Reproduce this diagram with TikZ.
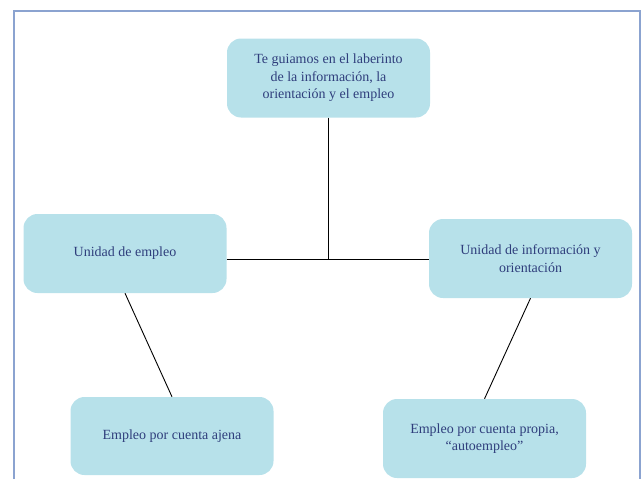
\documentclass[tikz,border=0pt]{standalone}
\usepackage{fontspec}
\setmainfont{Liberation Serif}
\definecolor{boxfill}{HTML}{B7E1EA}
\definecolor{boxtext}{HTML}{2F3E7C}
\definecolor{framecol}{HTML}{8BA3D0}

\begin{document}
\begin{tikzpicture}[x=1pt, y=-1pt,
  unit/.style={rectangle, rounded corners=14pt, fill=boxfill, text=boxtext,
    minimum width=203pt, minimum height=79pt, align=center,
    font=\fontsize{14}{17.5}\selectfont},
  link/.style={line width=0.9pt}]
  \useasboundingbox (0, 0) rectangle (642, 479);
  \draw[framecol, line width=1.4pt] (14, 479) -- (14, 11) -- (640, 11) -- (640, 479);

  \node[unit] (guia) at (328.5, 78) {Te guiamos en el laberinto\\de la información, la\\orientación y el empleo};
  \node[unit] (empleo) at (125, 253.5) {Unidad de empleo};
  \node[unit] (info) at (530.5, 258.5) {Unidad de información y\\orientación};
  \node[unit, minimum height=78pt] (ajena) at (172, 436) {Empleo por cuenta ajena};
  \node[unit] (propia) at (484.5, 438.5) {Empleo por cuenta propia,\\“autoempleo”};

  \coordinate (hub) at (328.5, 259);

  \draw[link] (guia) -- (hub);
  \draw[link] (empleo.east |- hub) -- (info.west |- hub);
  \draw[link] (empleo.south) -- (ajena.north);
  \draw[link] (info.south) -- (propia.north);
\end{tikzpicture}
\end{document}
